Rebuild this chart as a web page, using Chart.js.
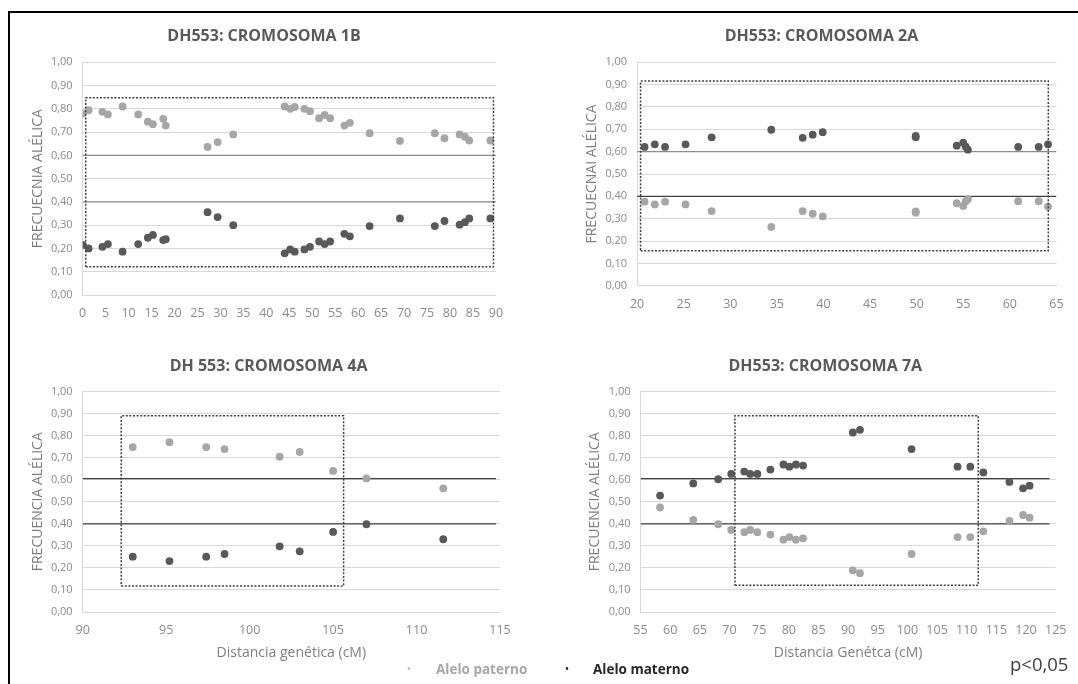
<!DOCTYPE html>
<html><head><meta charset="utf-8">
<script src="https://cdn.jsdelivr.net/npm/chart.js@4.4.1/dist/chart.umd.min.js"></script>
<style>
html,body{margin:0;padding:0;background:#fff;width:1078px;height:684px;overflow:hidden;font-family:'Open Sans',sans-serif;}
.frame{position:absolute;left:8px;top:11px;width:1100px;height:700px;border-top:2px solid #000;border-left:2px solid #000;box-sizing:border-box;}
canvas{position:absolute;}
.t{position:absolute;transform:translate(-50%,-50%);white-space:nowrap;line-height:1;}
.title{font-weight:700;font-size:16px;color:#595959;}
.lg{position:absolute;white-space:nowrap;line-height:1;transform:translateY(-50%);font-weight:700;font-size:13.5px;}
</style></head>
<body>
<div class="frame"></div>
<canvas id="c1"></canvas><canvas id="c2"></canvas><canvas id="c3"></canvas><canvas id="c4"></canvas>
<div class="t title" style="left:264px;top:35px">DH553: CROMOSOMA 1B</div>
<div class="t title" style="left:821.5px;top:35px">DH553: CROMOSOMA 2A</div>
<div class="t title" style="left:268.6px;top:364.5px">DH 553: CROMOSOMA 4A</div>
<div class="t title" style="left:825.3px;top:364.5px">DH553: CROMOSOMA 7A</div>
<div class="t" style="left:409px;top:669px;color:#bfbfbf;font-size:12px">•</div>
<div class="lg" style="left:436px;top:669.5px;color:#a6a6a6">Alelo paterno</div>
<div class="t" style="left:567px;top:669px;color:#262626;font-size:12px">•</div>
<div class="lg" style="left:593px;top:669.5px;color:#262626">Alelo materno</div>
<div class="lg" style="left:1010px;top:664px;color:#404040;font-weight:400;font-size:18.5px">p&lt;0,05</div>
<script>
// ---- Data ----
const yTicks = [0,0.1,0.2,0.3,0.4,0.5,0.6,0.7,0.8,0.9,1.0];

const pos1B = [0,1.3,4.3,5.5,8.7,12.1,14.2,15.3,17.55,18.1,27.2,29.4,32.8,44.0,45.2,46.2,48.3,49.5,51.5,52.7,53.9,57.0,58.2,62.5,69.1,76.7,78.8,82.1,83.25,84.2,88.8];
const pat1B = [0.78,0.794,0.787,0.776,0.81,0.776,0.745,0.734,0.757,0.728,0.636,0.657,0.69,0.81,0.80,0.808,0.80,0.79,0.76,0.774,0.76,0.728,0.74,0.695,0.662,0.695,0.674,0.69,0.68,0.664,0.664];
const mat1B = [0.215,0.20,0.207,0.219,0.186,0.219,0.246,0.258,0.236,0.24,0.356,0.335,0.30,0.179,0.196,0.186,0.196,0.207,0.23,0.219,0.23,0.263,0.252,0.296,0.329,0.296,0.318,0.302,0.313,0.329,0.329];
const ref1B = [0.6,0.4];
const box1B = {x:[0.67,89.47], y:[0.121,0.848]};

const pos2A = [20.8,21.9,23.0,25.2,28.0,34.4,37.77,38.85,39.92,49.9,49.9,54.3,55.0,55.27,55.5,60.9,63.1,64.1];
const mat2A = [0.621,0.633,0.621,0.633,0.664,0.698,0.662,0.676,0.687,0.670,0.664,0.627,0.64,0.622,0.609,0.621,0.621,0.633];
const pat2A = [0.376,0.364,0.376,0.364,0.334,0.263,0.334,0.322,0.31,0.333,0.327,0.369,0.357,0.378,0.387,0.378,0.378,0.354];
const ref2A = [0.6,0.4];
const box2A = {x:[20.37,64.13], y:[0.157,0.916]};

const pos4A = [93.0,95.2,97.4,98.5,101.8,103.0,105.0,107.0,111.6];
const pat4A = [0.748,0.77,0.748,0.739,0.704,0.726,0.64,0.606,0.561];
const mat4A = [0.251,0.231,0.251,0.263,0.298,0.275,0.363,0.398,0.33];
const ref4A = [0.605,0.4];
const box4A = {x:[92.31,105.63], y:[0.118,0.89]};

const pos7A = [58.3,63.9,68.1,70.3,72.5,73.5,74.7,76.9,79.1,80.1,81.2,82.4,90.8,92.0,100.7,108.45,110.6,112.8,117.2,119.5,120.6];
const mat7A = [0.528,0.583,0.602,0.626,0.637,0.626,0.626,0.646,0.669,0.659,0.669,0.664,0.814,0.826,0.739,0.659,0.659,0.633,0.59,0.561,0.573];
const pat7A = [0.474,0.418,0.398,0.372,0.362,0.372,0.362,0.351,0.328,0.34,0.328,0.334,0.189,0.176,0.263,0.34,0.34,0.366,0.413,0.44,0.428];
const ref7A = [0.605,0.4];
const box7A = {x:[70.92,111.94], y:[0.121,0.89]};

// ---- Styling ----
const COL_PAT = '#a6a6a6', COL_MAT = '#595959';
const TICK_COL = '#8a8a8a', GRID_COL = '#d9d9d9', AXT_COL = '#7f7f7f';
const FONT = "'Open Sans', sans-serif";

function pts(xs, ys){ return xs.map((x,i)=>({x:x, y:ys[i]})); }

function panel(id, rect, area, o){
  const cv = document.getElementById(id);
  cv.width = rect.w; cv.height = rect.h;
  cv.style.left = rect.l+'px'; cv.style.top = rect.t+'px';
  cv.style.width = rect.w+'px'; cv.style.height = rect.h+'px';
  const Wy = area.L - rect.l;
  const Hx = rect.t + rect.h - area.B;
  const padTop = area.T - rect.t;
  const padRight = rect.l + rect.w - area.R;
  const lh = 14*1.2;
  const yTitlePad = area.L - 45 - rect.l - lh/2;
  const xTitlePad = rect.t + rect.h - 653 - lh/2;
  const b = o.box;
  const datasets = [
    {data: pts(o.pos, o.pat), backgroundColor: COL_PAT, borderColor: COL_PAT, pointRadius: 3.9, borderWidth: 0, order: 2},
    {data: pts(o.pos, o.mat), backgroundColor: COL_MAT, borderColor: COL_MAT, pointRadius: 3.9, borderWidth: 0, order: 1},
    {data: [{x:o.min,y:o.ref[0]},{x:o.refEnd,y:o.ref[0]}], showLine:true, pointRadius:0, borderColor:o.refCol[0], borderWidth:1.3, order: 4},
    {data: [{x:o.min,y:o.ref[1]},{x:o.refEnd,y:o.ref[1]}], showLine:true, pointRadius:0, borderColor:o.refCol[1], borderWidth:1.3, order: 4},
    {data: [{x:b.x[0],y:b.y[0]},{x:b.x[1],y:b.y[0]},{x:b.x[1],y:b.y[1]},{x:b.x[0],y:b.y[1]},{x:b.x[0],y:b.y[0]}],
     showLine:true, pointRadius:0, borderColor:'#404040', borderWidth:1.5, borderDash:[2,1.6], order: 0, clip: false}
  ];
  new Chart(cv, {
    type: 'scatter',
    data: {datasets},
    options: {
      responsive:false, animation:false, devicePixelRatio:1,
      layout: {padding: {left:0, top:padTop, right:padRight, bottom:0}},
      plugins: {legend:{display:false}, tooltip:{enabled:false}, title:{display:false}},
      scales: {
        x: {
          type:'linear', min:o.min, max:o.max,
          afterBuildTicks: s => { s.ticks = o.xTicks.map(v=>({value:v})); },
          ticks: {color:TICK_COL, font:{family:FONT, size:12.5}, padding:11, maxRotation:0, autoSkip:false},
          grid: {display:false, drawTicks:false},
          border: {display:true, color:GRID_COL, width:1},
          title: {display: !!o.xTitle, text: o.xTitle||'', color:AXT_COL, font:{family:FONT, size:14}, padding:{top:0,bottom:xTitlePad}},
          afterFit: s => { s.height = Hx; }
        },
        y: {
          type:'linear', min:0, max:1,
          afterBuildTicks: s => { s.ticks = yTicks.map(v=>({value:v})); },
          ticks: {color:TICK_COL, font:{family:FONT, size:11}, padding:10, callback: v => Number(v).toFixed(2).replace('.', ',')},
          grid: {color:GRID_COL, lineWidth:1, drawTicks:false},
          border: {display:true, color:GRID_COL, width:1},
          title: {display:true, text:o.yTitle, color:AXT_COL, font:{family:FONT, size:14}, padding:{top:yTitlePad,bottom:0}},
          afterFit: s => { s.width = Wy; }
        }
      }
    }
  });
}

const ticks = (a,b)=>{const r=[];for(let v=a;v<=b;v+=5)r.push(v);return r;};

panel('c1', {l:20,t:40,w:520,h:290}, {L:82.65,T:62.3,R:495.9,B:295},
  {pos:pos1B, pat:pat1B, mat:mat1B, ref:ref1B, refCol:['#8c8c8c','#8c8c8c'], box:box1B, min:0, max:90, refEnd:90,
   xTicks:ticks(0,90), yTitle:'FRECUECNIA ALÉLICA'});
panel('c2', {l:574,t:40,w:504,h:290}, {L:637.1,T:62.3,R:1056.4,B:285.7},
  {pos:pos2A, pat:pat2A, mat:mat2A, ref:ref2A, refCol:['#8c8c8c','#404040'], box:box2A, min:20, max:65, refEnd:65,
   xTicks:ticks(20,65), yTitle:'FRECUECNAI ALÉLICA'});
panel('c3', {l:20,t:370,w:520,h:294}, {L:82.65,T:391.5,R:500.05,B:612},
  {pos:pos4A, pat:pat4A, mat:mat4A, ref:ref4A, refCol:['#404040','#404040'], box:box4A, min:90, max:115, refEnd:114.76,
   xTicks:ticks(90,115), yTitle:'FRECUENCIA ALÉLICA', xTitle:'Distancia genética (cM)'});
panel('c4', {l:574,t:370,w:504,h:294}, {L:640.5,T:391.5,R:1055.7,B:612},
  {pos:pos7A, pat:pat7A, mat:mat7A, ref:ref7A, refCol:['#404040','#404040'], box:box7A, min:55, max:125, refEnd:123.96,
   xTicks:ticks(55,125), yTitle:'FRECUENCIA ALÉLICA', xTitle:'Distancia Genétca (cM)'});
</script>
</body></html>
